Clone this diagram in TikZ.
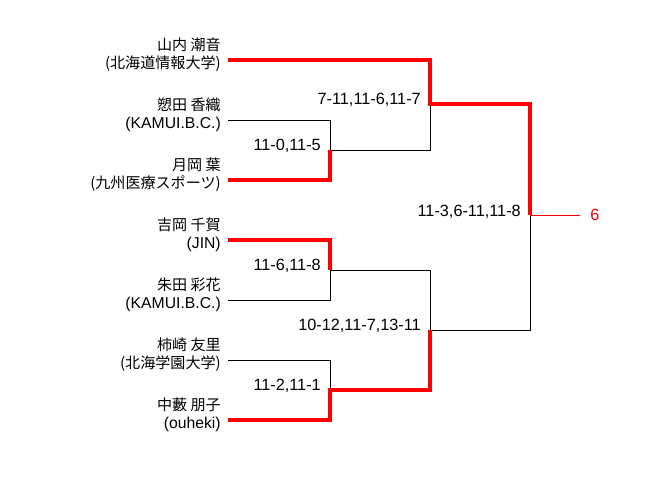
\documentclass[tikz,border=0pt]{standalone}
\usepackage{fontspec}
\setmainfont{Liberation Sans}
\newfontfamily\cjk{Noto Sans CJK JP}
\usetikzlibrary{positioning}
\tikzset{%
  win/.style = {draw=red, line width=3pt},
  lose/.style = {draw=black, line width=0.75pt},
  nm/.style = {anchor=east, inner sep=0pt,
        font=\cjk\fontsize{11.3}{13}\selectfont},
  tm/.style = {anchor=east, inner sep=0pt,
        font=\fontsize{11.8}{13}\selectfont},
  sc/.style = {anchor=east, inner sep=0pt,
        font=\fontsize{12.2}{14}\selectfont}
}
\begin{document}
\begin{tikzpicture}[x=0.75pt, y=-0.75pt]
    \useasboundingbox (0,0) rectangle (649,500);
    % players
    \foreach \y/\nm/\tm [count=\i] in {
        60/山内 潮音/{{\cjk\fontsize{11.3}{13}\selectfont (北海道情報大学)}},
        120/愬田 香織/{(KAMUI.B.C.)},
        180/月岡 葉/{{\cjk\fontsize{11.3}{13}\selectfont (九州医療スポーツ)}},
        240/吉岡 千賀/{(JIN)},
        300/朱田 彩花/{(KAMUI.B.C.)},
        360/柿崎 友里/{{\cjk\fontsize{11.3}{13}\selectfont (北海学園大学)}},
        420/中藪 朋子/{(ouheki)}}{
        \node[nm] (n\i) at (221,\y-15) {\nm};
        \node[tm] (t\i) at (221,\y+4) {\tm};
        \coordinate (e\i) at (228,\y);
    }
    % junctions
    \coordinate (j1) at (330,150);
    \coordinate (j2) at (330,270);
    \coordinate (j3) at (330,390);
    \coordinate (k1) at (430,104);
    \coordinate (k2) at (430,330);
    \coordinate (f) at (530,215);
    \coordinate (w) at (580,215);
    % scores
    \node[sc] (s1) at (321,146) {11-0,11-5};
    \node[sc] (s2) at (321,266) {11-6,11-8};
    \node[sc] (s3) at (321,386) {11-2,11-1};
    \node[sc] (s4) at (421,100) {7-11,11-6,11-7};
    \node[sc] (s5) at (421,326) {10-12,11-7,13-11};
    \node[sc] (s6) at (521,212) {11-3,6-11,11-8};
    % bracket
    \draw[lose] (e2) -| (j1);
    \draw[lose] (e5) -| (j2);
    \draw[lose] (e6) -| (j3);
    \draw[lose] (j1) -| (k1);
    \draw[lose] (j2) -| (k2);
    \draw[lose] (k2) -| (f);
    \draw[win] (e1) -| (k1) -| (f);
    \draw[win] (e3) -| (j1);
    \draw[win] (e4) -| (j2);
    \draw[win] (e7) -| (j3) -| (k2);
    \draw[red, line width=0.75pt] (f) -- (w);
    \node[right=7.5pt of w, inner sep=0pt, text=red,
        font=\fontsize{12.2}{14}\selectfont] (champ) {6};
\end{tikzpicture}
\end{document}
